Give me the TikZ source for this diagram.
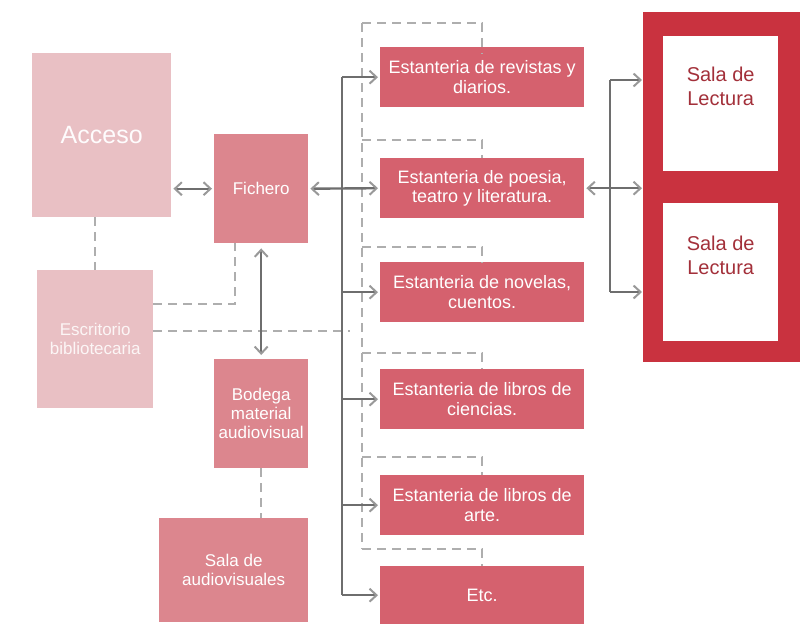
\documentclass[tikz,border=0pt]{standalone}
\usepackage{fontspec}
\setmainfont{Liberation Sans}
\usetikzlibrary{arrows.meta}
\definecolor{lightpk}{HTML}{E9C0C4}
\definecolor{midpk}{HTML}{DC868E}
\definecolor{shelfc}{HTML}{D5616E}
\definecolor{framec}{HTML}{C9323F}
\definecolor{salatxt}{HTML}{A3303A}
\definecolor{linec}{HTML}{6E6E6E}
\definecolor{tipc}{HTML}{999999}
\definecolor{dashc}{HTML}{AEAEAE}
\tikzset{
  box/.style={anchor=north west, inner sep=2pt, align=center, text=white},
  lightbox/.style={box, fill=lightpk},
  midbox/.style={box, fill=midpk, font=\fontsize{17}{19}\selectfont},
  shelfbox/.style={box, fill=shelfc, minimum width=204pt, minimum height=60pt, font=\fontsize{18}{19.5}\selectfont},
  conn/.style={draw=linec, line width=2.4pt},
  tipst/.style={},
  arr/.style={conn, -{Straight Barb[length=7pt,width=13pt,line width=2pt,color=tipc]}},
  arrr/.style={conn, {Straight Barb[length=7pt,width=13pt,line width=2pt,color=tipc]}-{Straight Barb[length=7pt,width=13pt,line width=2pt,color=tipc]}},
  dsh/.style={draw=dashc, line width=2.4pt, dash pattern=on 9pt off 6pt},
}
\begin{document}
\begin{tikzpicture}[x=1pt,y=-1pt]
\useasboundingbox (0,0) rectangle (804,624);
% left column
\node[lightbox, minimum width=139pt, minimum height=164pt, font=\fontsize{25}{28}\selectfont, text=white!96!lightpk] (acceso) at (32,53) {Acceso};
\node[lightbox, minimum width=116pt, minimum height=138pt, font=\fontsize{17}{19}\selectfont, text=white!85!lightpk] (escr) at (37,270) {Escritorio\\bibliotecaria};
\node[midbox, minimum width=94pt, minimum height=109pt] (fichero) at (214,134) {Fichero};
\node[midbox, minimum width=94pt, minimum height=109pt] (bodega) at (214,359) {Bodega\\material\\audiovisual};
\node[midbox, minimum width=149pt, minimum height=104pt] (audio) at (159,518) {Sala de\\audiovisuales};
% shelves
\node[shelfbox] (s1) at (380,47) {Estanteria de revistas y\\diarios.};
\node[shelfbox] (s2) at (380,158) {Estanteria de poesia,\\teatro y literatura.};
\node[shelfbox] (s3) at (380,262) {Estanteria de novelas,\\cuentos.};
\node[shelfbox] (s4) at (380,369) {Estanteria de libros de\\ciencias.};
\node[shelfbox] (s5) at (380,475) {Estanteria de libros de\\arte.};
\node[shelfbox, minimum height=58pt] (etc) at (380,566) {Etc.};
% reading room frame
\node[anchor=north west, fill=framec, minimum width=157pt, minimum height=350pt, inner sep=0pt] (sala) at (643,12) {};
\node[anchor=north west, fill=white, minimum width=115pt, minimum height=135pt, inner sep=0pt, align=center, text=salatxt, font=\fontsize{20}{24}\selectfont] (l1) at (663,36) {Sala de\\Lectura\\[10pt]};
\node[anchor=north west, fill=white, minimum width=115pt, minimum height=138pt, inner sep=0pt, align=center, text=salatxt, font=\fontsize{20}{24}\selectfont] (l2) at (663,203) {Sala de\\Lectura\\[10pt]};
% helper coordinates
\coordinate (trunk) at (342,0);
\coordinate (r1) at (610,80);
\coordinate (r3) at (610,292);
\coordinate (dtop) at (362,23);
\coordinate (d2) at (362,140);
\coordinate (d3) at (362,247);
\coordinate (d4) at (362,353);
\coordinate (d5) at (362,457);
\coordinate (d6) at (362,549);
\coordinate (e1) at (153,304);
\coordinate (e2) at (153,331);
\coordinate (e2end) at (350,331);
% dashed connectors
\draw[dsh] (acceso.south -| escr.north) -- (escr.north);
\draw[dsh] (bodega.south) -- (bodega.south |- audio.north);
\draw[dsh] (e1) -| ([xshift=-26pt]fichero.south);
\draw[dsh] (e2) -- (e2end);
\draw[dsh] (dtop) -- (d6);
\draw[dsh] (dtop) -| ([yshift=-7pt]s1.north);
\draw[dsh] (d2) -| (s2.north);
\draw[dsh] (d3) -| (s3.north);
\draw[dsh] (d4) -| (s4.north);
\draw[dsh] (d5) -| (s5.north);
\draw[dsh] (d6) -| (etc.north);
% solid connectors
\draw[arrr, shorten <=2pt, shorten >=2pt] (fichero.west -| acceso.east) -- (fichero.west);
\draw[arrr, shorten <=5pt, shorten >=4pt] (fichero.south) -- (bodega.north);
\draw[conn] (s1.west -| trunk) -- (etc.west -| trunk);
\draw[arrr, shorten <=2pt, shorten >=2pt] (fichero.east) -- (s2.west);
\foreach \s in {s1,s3,s4,s5,etc} {
  \draw[arr, shorten >=2pt] (\s.west -| trunk) -- (\s.west);
}
\draw[conn] (r1) -- (r3);
\draw[arr, shorten >=1pt] (r1) -- (r1 -| sala.west);
\draw[arr, shorten >=1pt] (r3) -- (r3 -| sala.west);
\draw[arrr, shorten <=2pt, shorten >=1pt] (s2.east) -- (s2.east -| sala.west);
\end{tikzpicture}
\end{document}
